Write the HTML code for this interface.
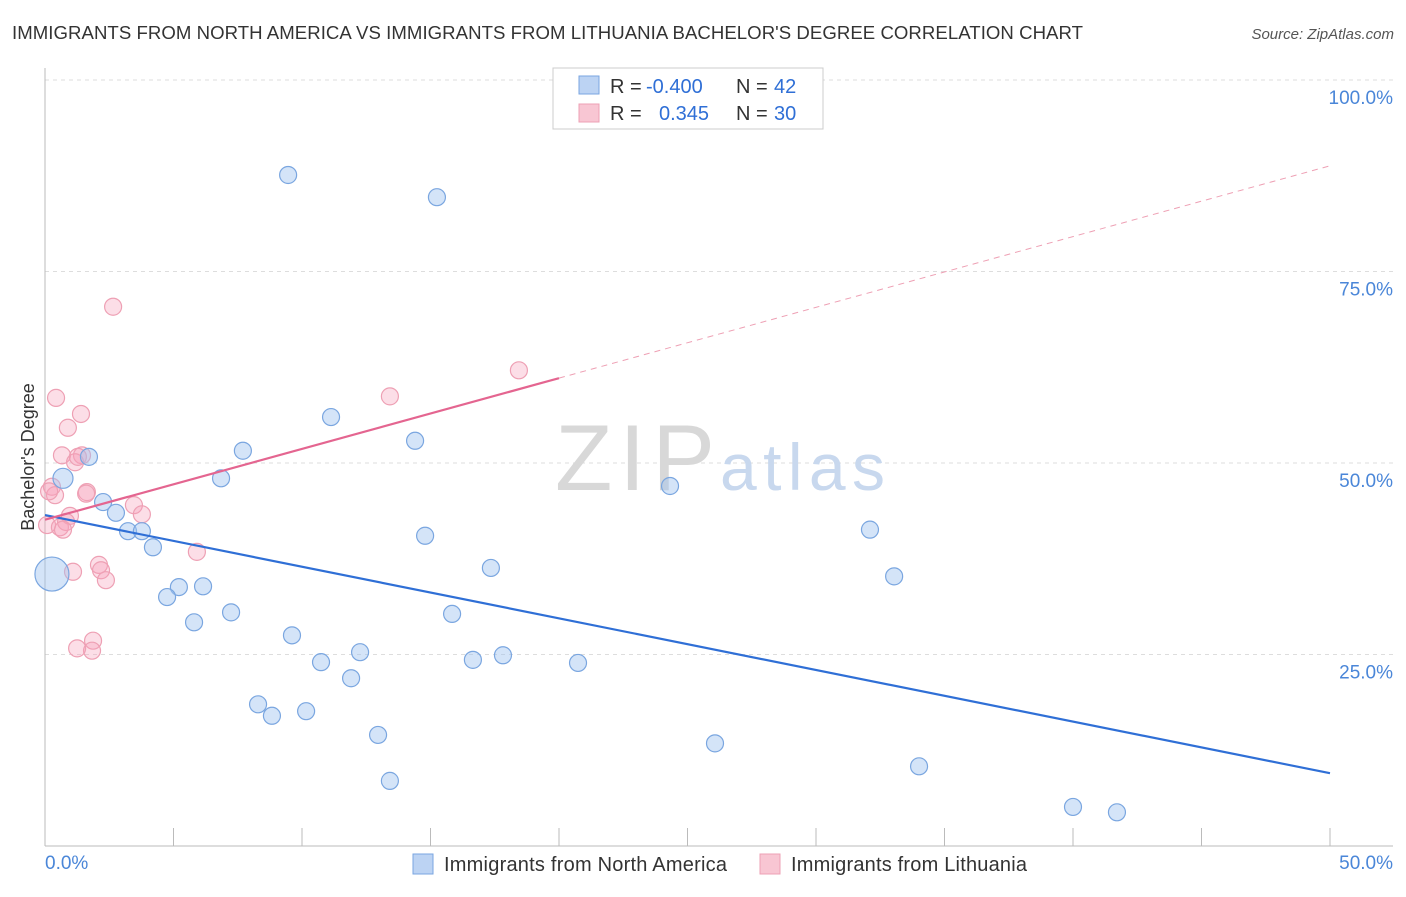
<!DOCTYPE html>
<html><head><meta charset="utf-8"><style>
body{margin:0;background:#fff;font-family:"Liberation Sans",sans-serif;}
svg text{font-family:"Liberation Sans",sans-serif;}
</style></head><body>
<svg width="1406" height="892">
<text x="12" y="39" font-size="18.6" fill="#333" textLength="1071">IMMIGRANTS FROM NORTH AMERICA VS IMMIGRANTS FROM LITHUANIA BACHELOR'S DEGREE CORRELATION CHART</text>
<text x="1394" y="39" font-size="15" fill="#555" font-style="italic" text-anchor="end">Source: ZipAtlas.com</text>
<g id="grid"></g>
<text x="555" y="490" font-size="94" fill="#d8d8d8" font-family="Liberation Serif" textLength="160">ZIP</text>
<text x="720" y="490" font-size="66" fill="#c8d8ee" textLength="165">atlas</text>
<line x1="45" y1="68" x2="45" y2="846" stroke="#bbb"/>
<line x1="45" y1="846" x2="1393" y2="846" stroke="#bbb"/>
<g id="marks"></g>
<text x="34" y="457" font-size="18" fill="#333" text-anchor="middle" transform="rotate(-90 34 457)">Bachelor's Degree</text>
<text x="45" y="869" font-size="19" fill="#4a86d8">0.0%</text>
<text x="1393" y="869" font-size="19" fill="#4a86d8" text-anchor="end">50.0%</text>
<g>
<rect x="553" y="68" width="270" height="61" fill="#fff" stroke="#ccc"/>
<rect x="579" y="76" width="20" height="18" fill="#bcd3f3" stroke="#7aa6e0"/>
<rect x="579" y="104" width="20" height="18" fill="#f8c6d3" stroke="#eea0b4"/>
<text y="93" font-size="20" fill="#333"><tspan x="610">R =</tspan><tspan x="646" fill="#2f6fd6">-0.400</tspan><tspan x="736">N =</tspan><tspan x="774" fill="#2f6fd6">42</tspan></text>
<text y="120" font-size="20" fill="#333"><tspan x="610">R =</tspan><tspan x="659" fill="#2f6fd6">0.345</tspan><tspan x="736">N =</tspan><tspan x="774" fill="#2f6fd6">30</tspan></text>
</g>
<g>
<rect x="413" y="854" width="20" height="20" fill="#bcd3f3" stroke="#7aa6e0"/>
<text x="444" y="871" font-size="20" fill="#333" textLength="283">Immigrants from North America</text>
<rect x="760" y="854" width="20" height="20" fill="#f8c6d3" stroke="#eea0b4"/>
<text x="791" y="871" font-size="20" fill="#333" textLength="236">Immigrants from Lithuania</text>
</g>
</svg>
<script>
const yTicks=[25,50,75,100];
const yTickLabels=["25.0%","50.0%","75.0%","100.0%"];
const xTickVals=[0,5,10,15,20,25,30,35,40,45,50];
const blueX=[9.46,15.25,11.13,7.70,14.40,1.71,0.70,6.85,24.32,2.26,2.76,3.23,3.77,4.20,14.79,32.10,17.35,33.04,5.21,6.15,4.75,15.84,7.24,5.80,9.61,12.26,16.65,17.82,20.74,10.74,11.91,8.29,8.83,10.16,12.96,26.07,34.01,13.42,40.0,41.71,0.27];
const blueY=[87.6,84.7,56.0,51.6,52.9,50.8,48.0,48.0,47.0,44.9,43.5,41.1,41.1,39.0,40.5,41.3,36.3,35.2,33.8,33.9,32.5,30.3,30.5,29.2,27.5,25.3,24.3,24.9,23.9,24.0,21.9,18.5,17.0,17.6,14.5,13.4,10.4,8.5,5.1,4.4,35.5];
const blueBig=[0,0,0,0,0,0,1,0,0,0,0,0,0,0,0,0,0,0,0,0,0,0,0,0,0,0,0,0,0,0,0,0,0,0,0,0,0,0,0,0,3];
const pinkX=[2.65,18.44,0.43,13.42,1.40,0.89,0.66,1.44,1.17,0.27,0.39,1.63,1.60,3.46,3.77,0.97,0.08,0.58,0.82,0.70,5.91,2.10,2.18,2.37,1.09,1.87,1.83,1.25,0.16,1.28];
const pinkY=[70.4,62.1,58.5,58.7,56.4,54.6,51.0,51.0,50.1,46.9,45.8,46.2,46.0,44.5,43.3,43.1,41.9,41.6,42.3,41.3,38.4,36.7,36.0,34.7,35.8,26.8,25.5,25.8,46.3,50.8];
const blueLine=[43.2,9.5];
const pinkLine=[42.6,88.8];
const pinkSolidEnd=20;
const NS="http://www.w3.org/2000/svg";
const X=v=>45+v*25.7, Y=v=>846-v*7.66;
const grid=document.getElementById('grid'), marks=document.getElementById('marks');
function mk(tag,at,parent){const e=document.createElementNS(NS,tag);for(const k in at)e.setAttribute(k,at[k]);parent.appendChild(e);return e;}
yTicks.forEach((t,i)=>{
 const l=mk('line',{x1:45,x2:1393,y1:Y(t),y2:Y(t),stroke:'#ddd','stroke-dasharray':'4 4'},grid);
 
 
 const tx=mk('text',{x:1393,y:Y(t)+24,'font-size':19,fill:'#4a86d8','text-anchor':'end'},grid);
 tx.textContent=yTickLabels[i];
 
 
});
xTickVals.forEach(t=>{
 const l=mk('line',{x1:X(t),x2:X(t),y1:828,y2:846,stroke:'#bbb'},grid);
 
 
});
pinkX.forEach((x,i)=>{
 const c=mk('circle',{cx:X(x),cy:Y(pinkY[i]),r:8.5,fill:'rgba(245,160,185,0.35)',stroke:'#eea0b4','stroke-width':1.2},marks);
 
 
});
blueX.forEach((x,i)=>{
 const c=mk('circle',{cx:X(x),cy:Y(blueY[i]),r:blueBig[i]==3?17:(blueBig[i]?10:8.5),fill:'rgba(160,195,240,0.45)',stroke:'#7aa6e0','stroke-width':1.2},marks);
 
 
});
const pAt=x=>pinkLine[0]+(pinkLine[1]-pinkLine[0])*x/50;
let l=mk('line',{x1:X(0),y1:Y(blueLine[0]),x2:X(50),y2:Y(blueLine[1]),stroke:'#2f6fd6','stroke-width':2.2},marks);


l=mk('line',{x1:X(0),y1:Y(pAt(0)),x2:X(pinkSolidEnd),y2:Y(pAt(pinkSolidEnd)),stroke:'#e46590','stroke-width':2.2},marks);


l=mk('line',{x1:X(pinkSolidEnd),y1:Y(pAt(pinkSolidEnd)),x2:X(50),y2:Y(pAt(50)),stroke:'#eea0b4','stroke-width':1,'stroke-dasharray':'6 5'},marks);


</script>
</body></html>
